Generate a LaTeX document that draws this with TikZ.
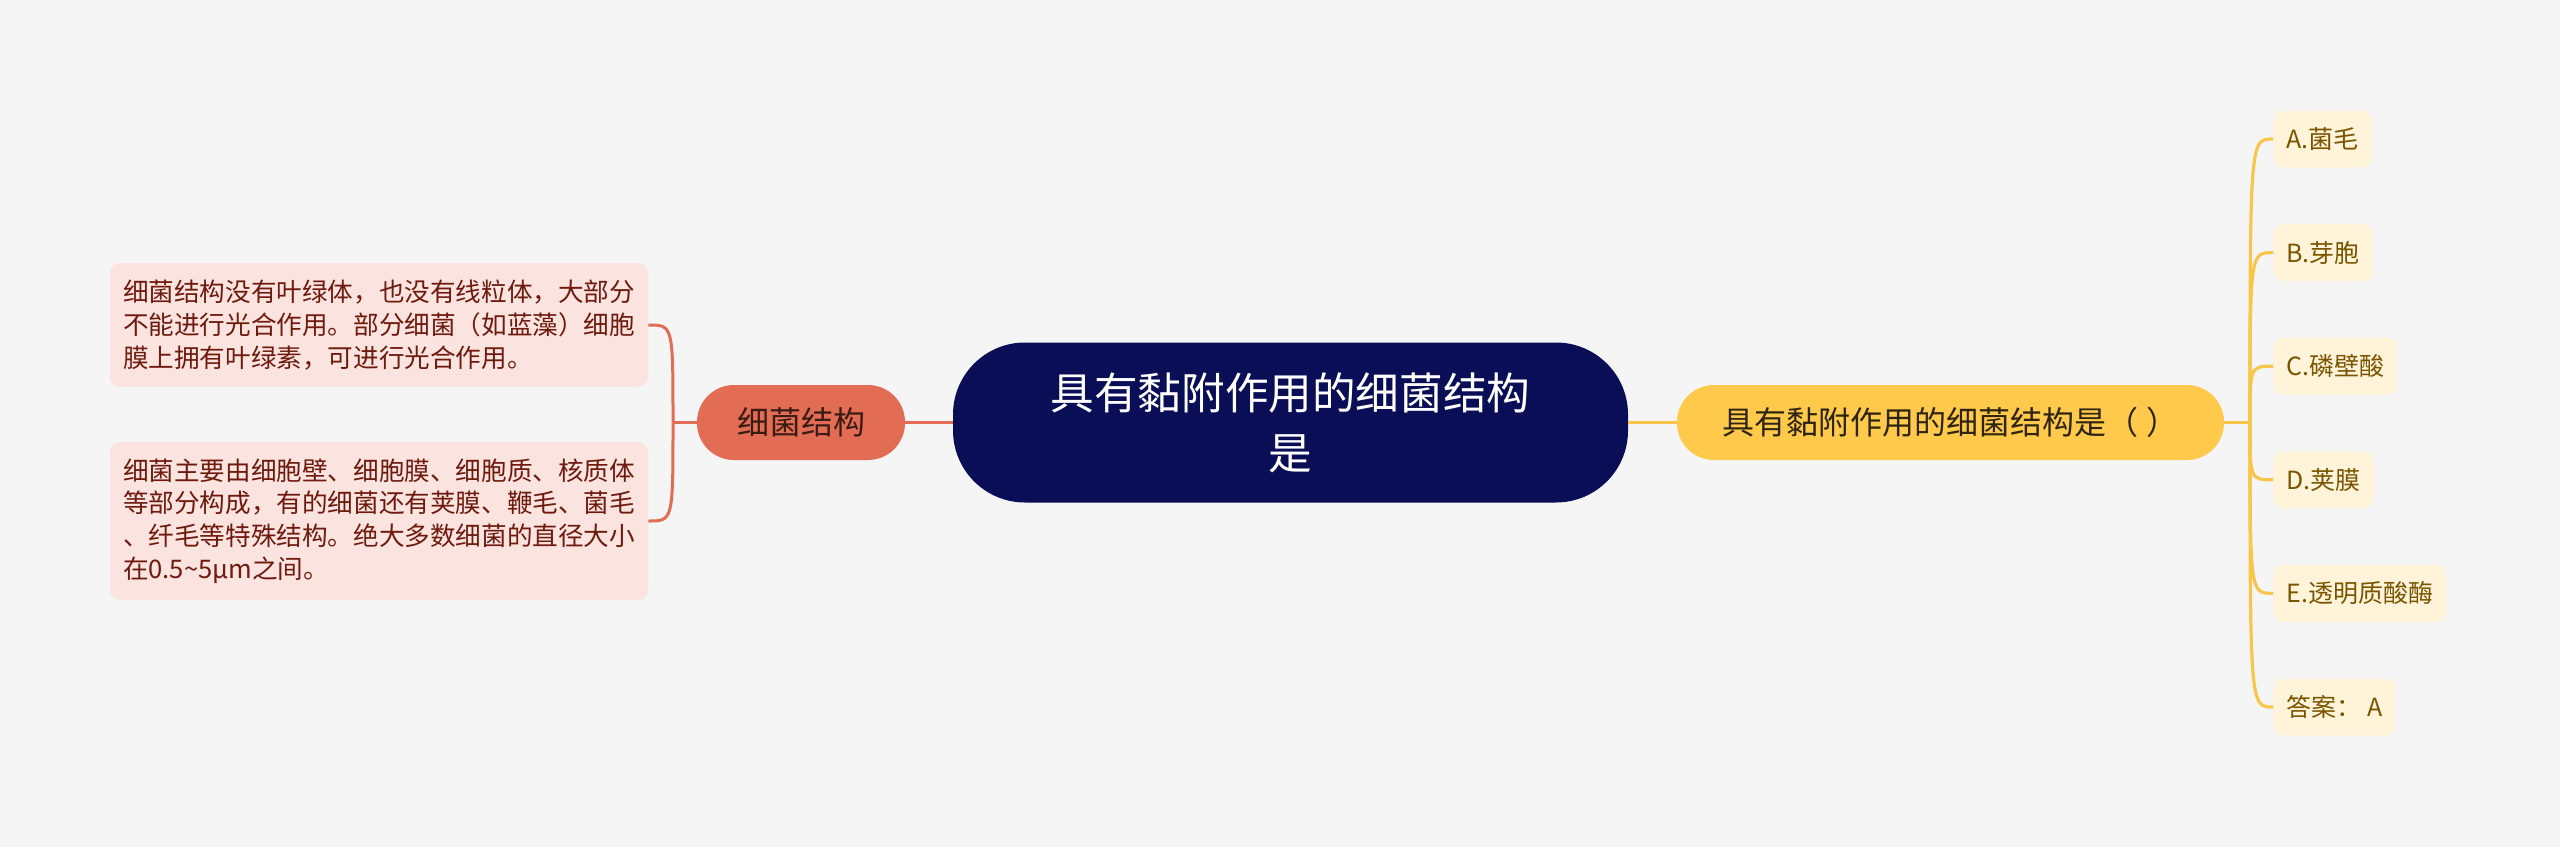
\documentclass[tikz,border=0pt]{standalone}
\usepackage{fontspec}
\setmainfont{Noto Sans CJK SC}
\definecolor{bg}{HTML}{F5F5F5}
\definecolor{navy}{HTML}{090E56}
\definecolor{coral}{HTML}{E36C55}
\definecolor{pinkfill}{HTML}{FBE4DF}
\definecolor{pinktext}{HTML}{6E1A0E}
\definecolor{coraltext}{HTML}{3A1C14}
\definecolor{gold}{HTML}{FFC94C}
\definecolor{goldline}{HTML}{F8C64A}
\definecolor{cream}{HTML}{FFF3D9}
\definecolor{creamtext}{HTML}{7A5500}
\definecolor{qtext}{HTML}{2E2410}
\tikzset{
  rootnode/.style={fill=navy, text=white, rounded corners=36pt, minimum width=337.5pt, minimum height=80pt, align=center, inner sep=0pt, font=\fontsize{21.8pt}{30pt}\selectfont},
  leftmain/.style={fill=coral, text=coraltext, rounded corners=18.5pt, minimum width=104pt, minimum height=37.5pt, inner sep=0pt, font=\fontsize{16pt}{20pt}\selectfont},
  rightmain/.style={fill=gold, text=qtext, rounded corners=18.5pt, minimum width=273.5pt, minimum height=37.5pt, inner sep=0pt, font=\fontsize{16pt}{20pt}\selectfont},
  leftleaf/.style={fill=pinkfill, text=pinktext, rounded corners=5pt, minimum width=269pt, align=left, inner sep=0pt, font=\fontsize{12.8pt}{16.35pt}\selectfont},
  optleaf/.style={fill=cream, text=creamtext, rounded corners=5pt, minimum height=28.5pt, inner xsep=6.5pt, inner ysep=0pt, anchor=west, font=\fontsize{12.5pt}{15pt}\selectfont},
  coralline/.style={draw=coral, line width=1.5pt},
  goldlink/.style={draw=goldline, line width=1.6pt},
}
\begin{document}
\begin{tikzpicture}[x=0.5pt,y=-0.5pt]
\path[fill=bg] (0,0) rectangle (2560,847);
\useasboundingbox (0,0) rectangle (2560,847);

\node[rootnode] (root) at (1290.5,422.5) {具有黏附作用的细菌结构\\是};
\node[leftmain] (xj) at (801,422.5) {细菌结构};
\node[rightmain] (q) at (1950.5,422.5) {具有黏附作用的细菌结构是（\ ）};

\node[leftleaf, minimum height=62pt] (l1) at (379,325) {细菌结构没有叶绿体，也没有线粒体，大部分\\不能进行光合作用。部分细菌（如蓝藻）细胞\\膜上拥有叶绿素，可进行光合作用。};
\node[leftleaf, minimum height=79pt] (l2) at (379,521) {细菌主要由细胞壁、细胞膜、细胞质、核质体\\等部分构成，有的细菌还有荚膜、鞭毛、菌毛\\、纤毛等特殊结构。绝大多数细菌的直径大小\\在0.5\textasciitilde5μm之间。};

\node[optleaf] (oa) at (2273,139) {A.菌毛};
\node[optleaf] (ob) at (2273,252.6) {B.芽胞};
\node[optleaf] (oc) at (2273,366.2) {C.磷壁酸};
\node[optleaf] (od) at (2273,479.8) {D.荚膜};
\node[optleaf] (oe) at (2273,593.4) {E.透明质酸酶};
\node[optleaf] (of) at (2273,707) {答案：\ A};

\coordinate (jl) at (673,422.5);
\coordinate (jr) at (2250,422.5);

\draw[coralline] (root.west) -- (xj.east);
\draw[coralline] (xj.west) -- (jl);
\draw[coralline] (jl) .. controls (673,325) and (673,325) .. (l1.east);
\draw[coralline] (jl) .. controls (673,521) and (673,521) .. (l2.east);

\draw[goldlink] (root.east) -- (q.west);
\draw[goldlink] (q.east) -- (jr);
\foreach \n/\yy in {oa/139, ob/252.6, oc/366.2, od/479.8, oe/593.4, of/707}{
  \draw[goldlink] (jr) .. controls (2250,\yy) and (2250,\yy) .. (\n.west);
}
\end{tikzpicture}
\end{document}
